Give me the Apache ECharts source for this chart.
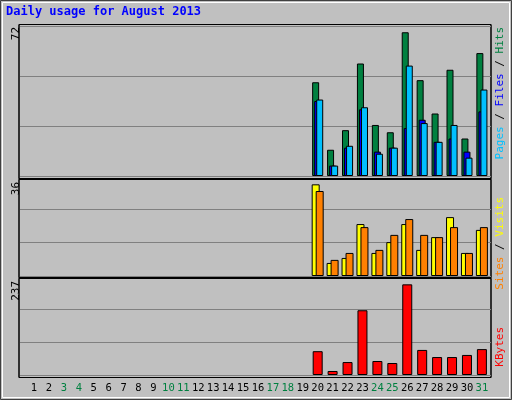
<!DOCTYPE html>
<html><head><meta charset="utf-8">
<script src="https://cdn.jsdelivr.net/npm/echarts@6/dist/echarts.min.js"></script>
<style>html,body{margin:0;padding:0;background:#c0c0c0}#c{width:512px;height:400px}</style>
</head><body><div id="c"></div>
<script>
const days = Array.from({length:31},(_,i)=>i+1);
const weekendDays = [3,4,10,11,17,18,24,25,31];
const N = null;
const hits   = [N,N,N,N,N,N,N,N,N,N,N,N,N,N,N,N,N,N,N,45,12.6,22,54,24.5,21,69,46,30,51,18,59];
const files  = [N,N,N,N,N,N,N,N,N,N,N,N,N,N,N,N,N,N,N,36,5,13.6,32,11.7,13.6,23,27,16.4,18,11.7,31];
const pages  = [N,N,N,N,N,N,N,N,N,N,N,N,N,N,N,N,N,N,N,36.7,5,14.5,33,10.7,13.6,53,25.4,16.4,24.5,8.8,41.5];
const visits = [N,N,N,N,N,N,N,N,N,N,N,N,N,N,N,N,N,N,N,33,4.7,6.5,18.7,8.3,12.2,18.7,9.4,14,21.2,8.3,16.6];
const sites  = [N,N,N,N,N,N,N,N,N,N,N,N,N,N,N,N,N,N,N,30.6,5.8,8.3,17.6,9.4,14.8,20.5,14.8,14,17.6,8.3,17.6];
const kbytes = [N,N,N,N,N,N,N,N,N,N,N,N,N,N,N,N,N,N,N,57,9.6,31,155,33.5,28.7,217,60,43,43,48,62];
const maxTop = 72, maxMid = 36, maxBot = 237;

const F = 'DejaVu Sans Mono, monospace';
const pairs = a => days.map((d,i)=>[d,a[i]]);
const grids = [
  {left:20,right:21,top:26,height:150},
  {left:20,right:21,top:176,height:100},
  {left:20,right:21,top:276,height:99}
];
const xAxes = grids.map((g,i)=>({gridIndex:i,type:'value',min:0.06,max:31.61,interval:1,
  axisLine:{show:false},axisTick:{show:false},splitLine:{show:false},
  axisLabel:{show:i===2,margin:8,fontFamily:F,fontSize:10.5,
    customValues:days,
    formatter:v=>(weekendDays.includes(v)?'{w|':'{d|')+v+'}',
    rich:{w:{color:'#008040',fontFamily:F,fontSize:10.5},d:{color:'#000',fontFamily:F,fontSize:10.5}}}}));
const yAxes = [maxTop,maxMid,maxBot].map((m,i)=>({gridIndex:i,type:'value',min:0,max:m,interval:m/3,
  axisLine:{show:false},axisTick:{show:false},axisLabel:{show:false},
  splitLine:{show:true,lineStyle:{color:'#808080',width:1}}}));
const bs = (name,data,color,xi,w,gap)=>({name,type:'bar',xAxisIndex:xi,yAxisIndex:xi,data:pairs(data),
  barWidth:w,barGap:gap,itemStyle:{color,borderColor:'#000',borderWidth:1},animation:false});
function vtext(x,y,parts){
  const rich={};let s='';
  parts.forEach((p,i)=>{rich['p'+i]={fill:p[1],fontFamily:F,fontSize:11};s+='{p'+i+'|'+p[0]+'}';});
  return {type:'text',x,y,rotation:Math.PI/2,style:{text:s,rich,align:'right',verticalAlign:'middle'},z:10};
}
const panel=(y,h)=>({type:'rect',shape:{x:19,y,width:472,height:h},style:{fill:'#c0c0c0',stroke:'#000',lineWidth:1},z:-10});
const chart = echarts.init(document.getElementById('c'));
chart.setOption({
  backgroundColor:'#c0c0c0',
  animation:false,
  grid:grids,xAxis:xAxes,yAxis:yAxes,
  graphic:[
    {type:'rect',shape:{x:0.5,y:0.5,width:511,height:399},style:{fill:'none',stroke:'#404040',lineWidth:1},z:-20},
    {type:'rect',shape:{x:2.5,y:2.5,width:507,height:395},style:{fill:'none',stroke:'#ffffff',lineWidth:1},z:-20},
    panel(24.5,154),panel(179.5,98),panel(278.5,99),
    {type:'rect',shape:{x:19,y:24.5,width:472,height:353},style:{fill:'none',stroke:'#000',lineWidth:1},z:-9},
    {type:'text',x:6,y:6,style:{text:'Daily usage for August 2013',fill:'#0000ff',fontFamily:F,fontSize:12,fontWeight:'bold'}},
    {type:'text',x:16,y:27,rotation:Math.PI/2,style:{text:'72',fill:'#000',fontFamily:F,fontSize:11,align:'right',verticalAlign:'middle'}},
    {type:'text',x:16,y:182,rotation:Math.PI/2,style:{text:'36',fill:'#000',fontFamily:F,fontSize:11,align:'right',verticalAlign:'middle'}},
    {type:'text',x:16,y:281,rotation:Math.PI/2,style:{text:'237',fill:'#000',fontFamily:F,fontSize:11,align:'right',verticalAlign:'middle'}},
    vtext(500,27,[['Pages','#00c0ff'],[' / ','#000'],['Files','#0000ff'],[' / ','#000'],['Hits','#008040']]),
    vtext(500,197,[['Sites','#ff8000'],[' / ','#000'],['Visits','#ffff00']]),
    vtext(500,327,[['KBytes','#ff0000']])
  ],
  series:[
    bs('Hits',hits,'#008040',0,7,'-71%'),
    bs('Files',files,'#0000ff',0,7,'-71%'),
    bs('Pages',pages,'#00c0ff',0,7,'-71%'),
    bs('Visits',visits,'#ffff00',1,8,'-50%'),
    bs('Sites',sites,'#ff8000',1,8,'-50%'),
    bs('KBytes',kbytes,'#ff0000',2,10,'0%')
  ]
});
</script></body></html>
